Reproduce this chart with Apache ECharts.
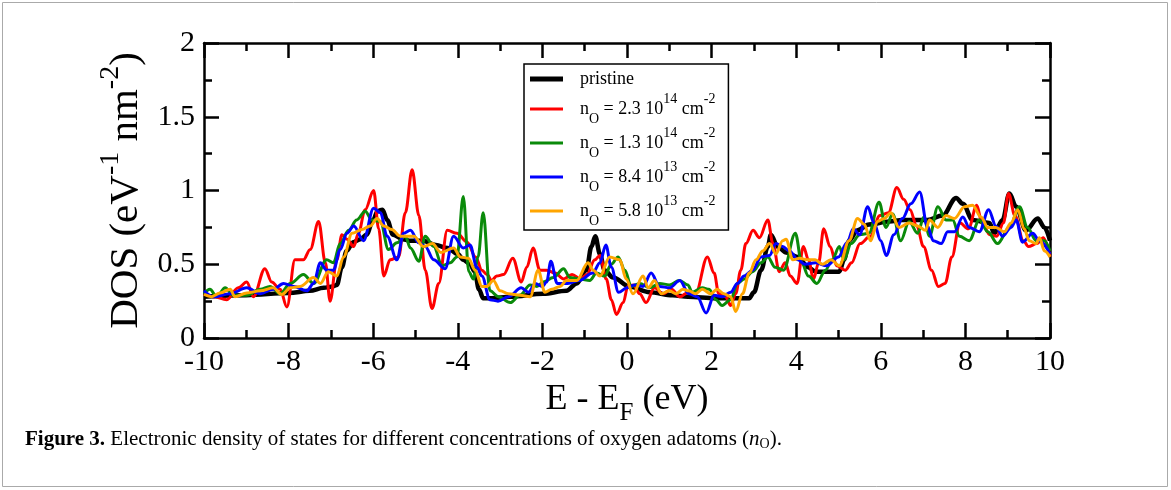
<!DOCTYPE html>
<html>
<head>
<meta charset="utf-8">
<script src="https://cdn.jsdelivr.net/npm/echarts@6/dist/echarts.min.js"></script>
<style>
html,body{margin:0;padding:0;background:#fff;}
#chart{width:1171px;height:490px;}
</style>
</head>
<body>
<div id="chart"></div>
<script>
// ---- data (energy E - E_F in eV, DOS in eV^-1 nm^-2) ----
const seriesNames = ['pristine', 'n23', 'n13', 'n84', 'n58'];
const xTicks = [-10, -8, -6, -4, -2, 0, 2, 4, 6, 8, 10];
const yTicks = [0, 0.5, 1, 1.5, 2];

const dosPristine = [
  [-10,0.28],[-9,0.29],[-8,0.305],[-7.5,0.32],[-7.17,0.34],[-6.95,0.35],[-6.86,0.36],[-6.74,0.48],[-6.63,0.59],[-6.47,0.65],
  [-6.3,0.67],[-6.16,0.70],[-6.0,0.80],[-5.9,0.86],[-5.78,0.87],[-5.67,0.80],[-5.53,0.70],[-5.3,0.67],[-5.14,0.66],[-4.83,0.66],
  [-4.52,0.63],[-4.24,0.61],[-4.0,0.57],[-3.87,0.53],[-3.71,0.50],[-3.6,0.45],[-3.5,0.33],[-3.4,0.27],[-3.2,0.27],[-2.76,0.28],
  [-1.98,0.30],[-1.43,0.32],[-1.19,0.37],[-0.96,0.46],[-0.84,0.62],[-0.75,0.69],[-0.64,0.57],[-0.53,0.46],[-0.33,0.41],[0.06,0.35],
  [0.53,0.31],[1.08,0.29],[1.44,0.28],[2.1,0.27],[2.89,0.27],[3.0,0.31],[3.17,0.46],[3.33,0.62],[3.4,0.70],[3.56,0.62],
  [3.76,0.58],[4.04,0.55],[4.28,0.48],[4.46,0.45],[5.02,0.45],[5.13,0.53],[5.25,0.66],[5.45,0.73],[5.72,0.77],[6.2,0.79],
  [6.51,0.80],[7.1,0.80],[7.46,0.83],[7.78,0.95],[7.94,0.91],[8.17,0.80],[8.57,0.78],[8.68,0.71],[8.88,0.80],[9.04,0.98],
  [9.2,0.89],[9.43,0.73],[9.71,0.81],[9.87,0.75],[10,0.66]
];

const dosRed = [
  [-10,0.30],[-9.78,0.28],[-9.46,0.26],[-9.19,0.34],[-8.99,0.38],[-8.83,0.28],[-8.56,0.47],[-8.4,0.38],[-8.2,0.33],[-8.04,0.21],
  [-7.85,0.53],[-7.65,0.53],[-7.49,0.60],[-7.29,0.79],[-7.13,0.51],[-7.02,0.25],[-6.86,0.53],[-6.74,0.70],[-6.62,0.67],[-6.46,0.62],
  [-6.35,0.71],[-6.19,0.87],[-5.99,1.00],[-5.87,0.74],[-5.75,0.42],[-5.6,0.53],[-5.4,0.55],[-5.24,0.85],[-5.08,1.14],[-4.92,0.83],
  [-4.77,0.46],[-4.61,0.20],[-4.45,0.37],[-4.25,0.73],[-4.02,0.71],[-3.78,0.65],[-3.58,0.55],[-3.43,0.46],[-3.31,0.43],[-3.2,0.39],
  [-3.08,0.42],[-2.92,0.43],[-2.7,0.54],[-2.5,0.38],[-2.37,0.48],[-2.22,0.61],[-2.06,0.46],[-1.9,0.46],[-1.7,0.44],[-1.5,0.40],
  [-1.3,0.43],[-1.1,0.40],[-0.95,0.43],[-0.76,0.53],[-0.64,0.56],[-0.49,0.40],[-0.37,0.26],[-0.25,0.16],[-0.09,0.24],[0.02,0.35],
  [0.15,0.36],[0.3,0.30],[0.45,0.24],[0.65,0.34],[0.85,0.30],[1.05,0.33],[1.25,0.28],[1.45,0.31],[1.62,0.30],[1.9,0.55],
  [2.06,0.44],[2.17,0.30],[2.33,0.28],[2.45,0.22],[2.57,0.30],[2.69,0.46],[2.81,0.64],[2.98,0.73],[3.13,0.68],[3.33,0.80],
  [3.45,0.64],[3.6,0.45],[3.74,0.51],[3.86,0.42],[4.02,0.37],[4.17,0.62],[4.29,0.53],[4.41,0.40],[4.53,0.51],[4.65,0.74],
  [4.8,0.62],[4.96,0.49],[5.16,0.46],[5.31,0.51],[5.51,0.64],[5.75,0.69],[5.98,0.83],[6.18,0.85],[6.38,1.02],[6.54,0.94],
  [6.69,0.87],[6.85,0.76],[7.01,0.62],[7.2,0.46],[7.36,0.35],[7.52,0.37],[7.68,0.55],[7.87,0.78],[8.07,0.74],[8.27,0.90],
  [8.39,0.78],[8.58,0.70],[8.74,0.69],[8.9,0.78],[9.02,0.98],[9.17,0.83],[9.37,0.66],[9.49,0.62],[9.69,0.64],[9.84,0.68],[10,0.55]
];

const dosGreen = [
  [-10,0.30],[-9.86,0.33],[-9.7,0.28],[-9.5,0.34],[-9.31,0.29],[-8.99,0.29],[-8.67,0.33],[-8.44,0.35],[-8.2,0.30],[-7.96,0.37],
  [-7.65,0.43],[-7.41,0.37],[-7.1,0.53],[-6.94,0.51],[-6.78,0.64],[-6.58,0.73],[-6.39,0.80],[-6.19,0.86],[-6.03,0.80],[-5.83,0.79],
  [-5.64,0.60],[-5.44,0.645],[-5.24,0.69],[-5.12,0.61],[-4.92,0.52],[-4.77,0.69],[-4.57,0.62],[-4.37,0.49],[-4.18,0.51],[-4.02,0.55],
  [-3.87,0.96],[-3.74,0.45],[-3.63,0.40],[-3.52,0.55],[-3.4,0.85],[-3.24,0.32],[-3.04,0.28],[-2.76,0.24],[-2.53,0.29],[-2.29,0.36],
  [-2.13,0.35],[-1.98,0.38],[-1.74,0.41],[-1.5,0.47],[-1.35,0.41],[-1.11,0.40],[-0.88,0.39],[-0.72,0.44],[-0.53,0.42],[-0.37,0.50],
  [-0.21,0.55],[-0.05,0.46],[0.1,0.35],[0.3,0.37],[0.53,0.34],[0.77,0.37],[1.0,0.36],[1.24,0.39],[1.44,0.36],[1.54,0.31],
  [1.78,0.34],[1.94,0.33],[2.1,0.26],[2.25,0.22],[2.45,0.26],[2.61,0.37],[2.77,0.40],[2.97,0.45],[3.17,0.51],[3.33,0.55],
  [3.5,0.48],[3.7,0.46],[3.98,0.71],[4.13,0.51],[4.29,0.42],[4.49,0.37],[4.69,0.46],[4.85,0.53],[5.02,0.62],[5.13,0.53],
  [5.3,0.64],[5.5,0.70],[5.72,0.71],[5.96,0.92],[6.12,0.75],[6.28,0.84],[6.47,0.66],[6.67,0.79],[6.87,0.71],[7.02,0.82],
  [7.15,0.69],[7.35,0.89],[7.54,0.80],[7.7,0.80],[7.86,0.69],[8.09,0.66],[8.33,0.80],[8.53,0.72],[8.76,0.64],[9.04,0.75],
  [9.28,0.89],[9.47,0.75],[9.67,0.66],[9.87,0.66],[10,0.59]
];

const dosBlue = [
  [-10,0.32],[-9.78,0.28],[-9.38,0.30],[-8.99,0.34],[-8.67,0.30],[-8.36,0.33],[-8.12,0.37],[-7.88,0.35],[-7.57,0.32],[-7.41,0.37],
  [-7.25,0.51],[-7.1,0.46],[-6.94,0.46],[-6.78,0.60],[-6.62,0.71],[-6.46,0.76],[-6.23,0.66],[-5.99,0.88],[-5.83,0.85],[-5.67,0.69],
  [-5.44,0.53],[-5.28,0.71],[-5.12,0.73],[-4.92,0.645],[-4.77,0.62],[-4.57,0.53],[-4.3,0.47],[-4.1,0.69],[-3.87,0.61],[-3.71,0.63],
  [-3.55,0.48],[-3.43,0.42],[-3.24,0.26],[-3.05,0.25],[-2.8,0.28],[-2.5,0.34],[-2.33,0.31],[-2.17,0.37],[-2.0,0.35],[-1.9,0.38],
  [-1.8,0.52],[-1.65,0.37],[-1.4,0.37],[-1.13,0.39],[-0.81,0.44],[-0.64,0.51],[-0.5,0.63],[-0.37,0.48],[-0.2,0.31],[0.0,0.34],
  [0.18,0.36],[0.38,0.35],[0.57,0.44],[0.77,0.35],[1.0,0.34],[1.25,0.39],[1.46,0.30],[1.66,0.28],[1.87,0.17],[2.06,0.29],
  [2.25,0.28],[2.45,0.31],[2.61,0.37],[2.77,0.42],[2.97,0.46],[3.17,0.55],[3.37,0.56],[3.52,0.64],[3.68,0.62],[3.84,0.59],
  [4.04,0.53],[4.2,0.50],[4.46,0.51],[4.72,0.49],[5.0,0.55],[5.2,0.645],[5.35,0.74],[5.5,0.70],[5.69,0.89],[5.84,0.78],
  [6.0,0.66],[6.13,0.56],[6.31,0.70],[6.51,0.81],[6.71,0.91],[6.92,0.99],[7.1,0.76],[7.24,0.66],[7.43,0.64],[7.58,0.72],
  [7.74,0.72],[7.94,0.82],[8.09,0.75],[8.33,0.72],[8.55,0.87],[8.72,0.76],[8.88,0.69],[9.08,0.75],[9.2,0.80],[9.35,0.65],
  [9.59,0.71],[9.75,0.66],[10,0.57]
];

const dosOrange = [
  [-10,0.295],[-9.82,0.28],[-9.62,0.305],[-9.38,0.33],[-9.27,0.28],[-8.99,0.305],[-8.67,0.32],[-8.36,0.34],[-8.16,0.295],[-7.96,0.34],
  [-7.73,0.35],[-7.41,0.41],[-7.25,0.37],[-7.06,0.45],[-6.86,0.42],[-6.7,0.55],[-6.5,0.71],[-6.27,0.735],[-6.07,0.76],[-5.91,0.81],
  [-5.75,0.76],[-5.56,0.735],[-5.36,0.69],[-5.04,0.69],[-4.81,0.62],[-4.6,0.64],[-4.4,0.58],[-4.1,0.61],[-3.94,0.55],[-3.75,0.54],
  [-3.59,0.46],[-3.43,0.35],[-3.31,0.35],[-3.16,0.39],[-3.0,0.32],[-2.8,0.30],[-2.53,0.29],[-2.29,0.28],[-2.1,0.46],[-1.94,0.31],
  [-1.78,0.33],[-1.58,0.35],[-1.43,0.39],[-1.19,0.39],[-0.92,0.51],[-0.8,0.46],[-0.64,0.42],[-0.41,0.55],[-0.17,0.53],[-0.02,0.40],
  [0.14,0.30],[0.38,0.42],[0.5,0.34],[0.65,0.39],[0.81,0.30],[1.0,0.32],[1.16,0.30],[1.32,0.33],[1.46,0.32],[1.62,0.30],
  [1.78,0.33],[1.98,0.30],[2.13,0.33],[2.29,0.30],[2.45,0.28],[2.57,0.18],[2.73,0.30],[2.89,0.44],[3.05,0.53],[3.21,0.59],
  [3.37,0.64],[3.52,0.57],[3.68,0.66],[3.76,0.67],[3.92,0.53],[4.08,0.54],[4.28,0.53],[4.45,0.53],[4.62,0.50],[4.82,0.53],
  [5.02,0.49],[5.25,0.66],[5.45,0.81],[5.61,0.77],[5.76,0.66],[5.92,0.79],[6.08,0.81],[6.24,0.85],[6.43,0.75],[6.67,0.78],
  [6.87,0.76],[7.06,0.73],[7.15,0.80],[7.35,0.75],[7.54,0.83],[7.74,0.81],[7.98,0.89],[8.17,0.90],[8.37,0.82],[8.53,0.75],
  [8.72,0.75],[8.92,0.72],[9.08,0.78],[9.24,0.87],[9.39,0.74],[9.51,0.66],[9.67,0.64],[9.75,0.68],[9.87,0.59],[10,0.55]
];

const legendLabels = {
  pristine: '{p|pristine}',
  n23: '{t|n}{sb|O}{t| = 2.3 10}{sp|14}{t| cm}{sp|-2}',
  n13: '{t|n}{sb|O}{t| = 1.3 10}{sp|14}{t| cm}{sp|-2}',
  n84: '{t|n}{sb|O}{t| = 8.4 10}{sp|13}{t| cm}{sp|-2}',
  n58: '{t|n}{sb|O}{t| = 5.8 10}{sp|13}{t| cm}{sp|-2}'
};
const seriesColors = ['#000000', '#ff0000', '#0a8a0a', '#0000ff', '#ffa500'];
const seriesWidths = [4.5, 3, 3, 3, 3];
const seriesData = [dosPristine, dosRed, dosGreen, dosBlue, dosOrange];

// ---- chart ----
const FONT = '"Liberation Serif", "Times New Roman", serif';
const chart = echarts.init(document.getElementById('chart'), null, {renderer: 'canvas'});

function axisCommon(show) {
  return {
    axisLine: {show: true, onZero: false, lineStyle: {color: '#000', width: 2.5}},
    axisTick: {show: true, inside: true, length: 15, lineStyle: {color: '#000', width: 2.5}},
    minorTick: {show: true, splitNumber: 2, length: 8, lineStyle: {color: '#000', width: 2.5}},
    splitLine: {show: false},
    axisLabel: {show: show, color: '#000', fontFamily: FONT, fontSize: 30, margin: 9}
  };
}

const option = {
  animation: false,
  backgroundColor: '#fff',
  grid: {left: 204, right: 121, top: 43, bottom: 152, containLabel: false},
  xAxis: [
    Object.assign({
      type: 'value', min: -10, max: 10, interval: 2, position: 'bottom',
      name: '{a|E - E}{b|F}{a| (eV)}', nameLocation: 'middle', nameGap: 30,
      nameTextStyle: {rich: {
        a: {fontFamily: FONT, fontSize: 36, color: '#000', lineHeight: 44, verticalAlign: 'top'},
        b: {fontFamily: FONT, fontSize: 25, color: '#000', lineHeight: 28, verticalAlign: 'bottom'}
      }}
    }, axisCommon(true)),
    Object.assign({type: 'value', min: -10, max: 10, interval: 2, position: 'top'}, axisCommon(false))
  ],
  yAxis: [
    Object.assign({
      type: 'value', min: 0, max: 2, interval: 0.5, position: 'left',
      name: '{a|DOS (eV}{s|-1}{a| nm}{s|-2}{a|)}', nameLocation: 'middle', nameGap: 55, nameRotate: 90,
      nameTextStyle: {rich: {
        a: {fontFamily: FONT, fontSize: 41, color: '#000', lineHeight: 50, verticalAlign: 'bottom'},
        s: {fontFamily: FONT, fontSize: 28, color: '#000', lineHeight: 28, verticalAlign: 'top'}
      }}
    }, axisCommon(true)),
    Object.assign({type: 'value', min: 0, max: 2, interval: 0.5, position: 'right'}, axisCommon(false))
  ],
  legend: {
    show: true,
    orient: 'vertical',
    left: 524, top: 64,
    padding: [2, 13, 2, 6],
    itemGap: 0,
    itemWidth: 33, itemHeight: 14,
    symbolKeepAspect: true,
    borderColor: '#000', borderWidth: 1.5,
    backgroundColor: '#fff',
    data: seriesNames.map(function (name, i) {
      return {name: name, icon: i === 0 ? 'path://M0,0 L33,0 L33,5 L0,5 Z' : 'path://M0,0 L33,0 L33,3 L0,3 Z'};
    }),
    formatter: function (name) { return '{g|}' + legendLabels[name]; },
    textStyle: {
      color: '#000', fontFamily: FONT, fontSize: 18, lineHeight: 26,
      rich: {
        g: {width: 12, lineHeight: 26},
        p: {fontFamily: FONT, fontSize: 18, color: '#000', lineHeight: 26, verticalAlign: 'middle'},
        t: {fontFamily: FONT, fontSize: 18, color: '#000', lineHeight: 34, verticalAlign: 'middle'},
        sp: {fontFamily: FONT, fontSize: 14, color: '#000', lineHeight: 20, verticalAlign: 'top'},
        sb: {fontFamily: FONT, fontSize: 14, color: '#000', lineHeight: 18, verticalAlign: 'bottom'}
      }
    }
  },
  series: seriesNames.map(function (name, i) {
    return {
      name: name,
      type: 'line',
      xAxisIndex: 0, yAxisIndex: 0,
      data: seriesData[i],
      smooth: 0.35,
      smoothMonotone: 'x',
      symbol: 'none',
      showSymbol: false,
      clip: true,
      z: 2 + i,
      lineStyle: {color: seriesColors[i], width: seriesWidths[i]},
      itemStyle: {color: seriesColors[i]}
    };
  }),
  graphic: [
    {type: 'rect', silent: true, z: -1,
     shape: {x: 2.5, y: 2.5, width: 1165, height: 484},
     style: {fill: 'none', stroke: '#aaaaaa', lineWidth: 1}},
    {type: 'text', silent: true, left: 25, top: 429,
     style: {
       text: '{b|Figure 3.}{r| Electronic density of states for different concentrations of oxygen adatoms (}{i|n}{s|O}{r|).}',
       rich: {
         b: {fontFamily: FONT, fontSize: 21, fontWeight: 'bold', fill: '#000', lineHeight: 24},
         r: {fontFamily: FONT, fontSize: 21, fill: '#000', lineHeight: 24},
         i: {fontFamily: FONT, fontSize: 21, fontStyle: 'italic', fill: '#000', lineHeight: 24},
         s: {fontFamily: FONT, fontSize: 14, fill: '#000', lineHeight: 14, verticalAlign: 'bottom'}
       }
     }}
  ]
};
chart.setOption(option);
</script>
</body>
</html>
